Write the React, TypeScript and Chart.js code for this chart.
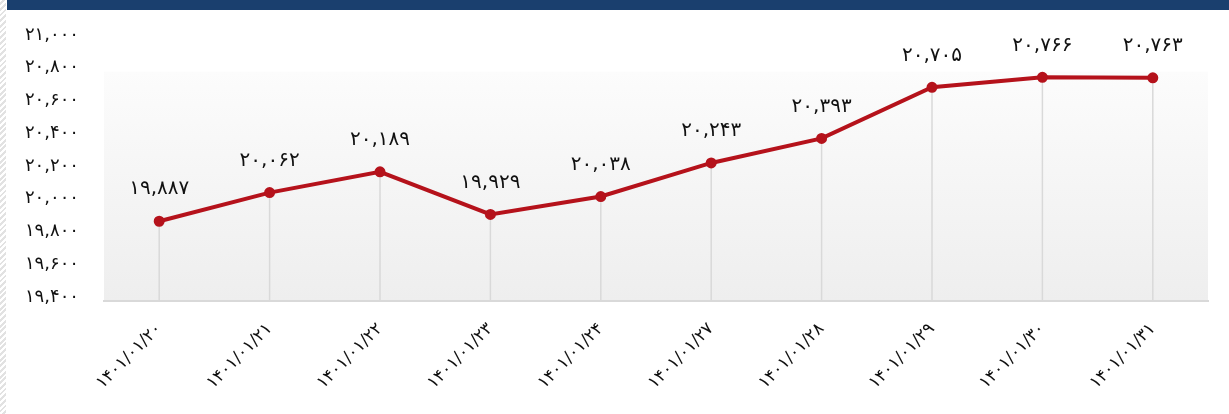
import React, { useEffect, useRef } from "react";
import { Chart, registerables } from "chart.js";

Chart.register(...registerables);

const categories = [
  "۱۴۰۱/۰۱/۲۰",
  "۱۴۰۱/۰۱/۲۱",
  "۱۴۰۱/۰۱/۲۲",
  "۱۴۰۱/۰۱/۲۳",
  "۱۴۰۱/۰۱/۲۴",
  "۱۴۰۱/۰۱/۲۷",
  "۱۴۰۱/۰۱/۲۸",
  "۱۴۰۱/۰۱/۲۹",
  "۱۴۰۱/۰۱/۳۰",
  "۱۴۰۱/۰۱/۳۱",
];
const values = [19887, 20062, 20189, 19929, 20038, 20243, 20393, 20705, 20766, 20763];
const yMin = 19400;
const yMax = 21000;
const yStep = 200;
const plotTopValue = 20800;

const faDigits = ["۰", "۱", "۲", "۳", "۴", "۵", "۶", "۷", "۸", "۹"];
const toFa = (n: number) =>
  n
    .toLocaleString("en-US")
    .replace(/[0-9]/g, (d) => faDigits[Number(d)]);

const FONT = "'DejaVu Sans', sans-serif";
const LINE = "#b5121b";

const bgPlugin = {
  id: "bgPlugin",
  beforeDraw(chart: any) {
    const { ctx, chartArea } = chart;
    const y = chart.scales.y;
    const top = y.getPixelForValue(plotTopValue);
    const g = ctx.createLinearGradient(0, top, 0, chartArea.bottom);
    g.addColorStop(0, "#fcfcfc");
    g.addColorStop(1, "#eeeeee");
    ctx.save();
    ctx.fillStyle = g;
    ctx.fillRect(chartArea.left, top, chartArea.right - chartArea.left, chartArea.bottom - top);
    ctx.restore();
  },
};

const dropPlugin = {
  id: "dropPlugin",
  beforeDatasetsDraw(chart: any) {
    const { ctx, chartArea } = chart;
    const meta = chart.getDatasetMeta(0);
    ctx.save();
    ctx.strokeStyle = "#d9d9d9";
    ctx.lineWidth = 1.5;
    meta.data.forEach((p: any) => {
      ctx.beginPath();
      ctx.moveTo(p.x, p.y);
      ctx.lineTo(p.x, chartArea.bottom);
      ctx.stroke();
    });
    ctx.restore();
  },
};

const labelPlugin = {
  id: "labelPlugin",
  afterDatasetsDraw(chart: any) {
    const { ctx } = chart;
    const meta = chart.getDatasetMeta(0);
    ctx.save();
    ctx.fillStyle = "#111111";
    ctx.font = `20px ${FONT}`;
    ctx.textAlign = "center";
    ctx.textBaseline = "middle";
    meta.data.forEach((p: any, i: number) => {
      ctx.fillText(toFa(values[i]), p.x, p.y - 32);
    });
    ctx.restore();
  },
};

export default function App() {
  const ref = useRef<HTMLCanvasElement>(null);
  useEffect(() => {
    if (!ref.current) return;
    const chart = new Chart(ref.current, {
      type: "line",
      data: {
        labels: categories,
        datasets: [
          {
            data: values,
            borderColor: LINE,
            backgroundColor: LINE,
            borderWidth: 4,
            pointRadius: 3.5,
            pointBackgroundColor: LINE,
            pointBorderColor: LINE,
            tension: 0,
          },
        ],
      },
      options: {
        animation: false,
        responsive: false,
        layout: { padding: { left: 0, right: 21, top: 39, bottom: 0 } },
        plugins: { legend: { display: false }, tooltip: { enabled: false } },
        scales: {
          x: {
            offset: true,
            grid: { display: false, drawTicks: false },
            border: { display: true, color: "#d9d9d9", width: 2 },
            ticks: {
              maxRotation: 45,
              minRotation: 45,
              padding: 18,
              color: "#111111",
              font: { family: FONT, size: 17 },
            },
            afterFit(scale: any) {
              scale.height = 113;
            },
          },
          y: {
            min: yMin,
            max: yMax,
            grid: { display: false, drawTicks: false },
            border: { display: false },
            ticks: {
              stepSize: yStep,
              padding: 25,
              labelOffset: -4,
              color: "#111111",
              font: { family: FONT, size: 18 },
              callback: (v: any) => toFa(Number(v)),
            },
            afterFit(scale: any) {
              scale.width = 104;
            },
          },
        },
      },
      plugins: [bgPlugin, dropPlugin, labelPlugin],
    });
    return () => chart.destroy();
  }, []);

  return (
    <div
      style={{
        position: "fixed",
        left: 0,
        top: 0,
        width: 1229,
        height: 414,
        background: "#ffffff",
        overflow: "hidden",
      }}
    >
      <canvas
        ref={ref}
        width={1229}
        height={414}
        style={{ position: "absolute", left: 0, top: 0, width: 1229, height: 414 }}
      />
      <div
        style={{
          position: "absolute",
          left: 7,
          top: 0,
          width: 1222,
          height: 10,
          background: "#1a3f6e",
        }}
      />
      <div
        style={{
          position: "absolute",
          left: 0,
          top: 0,
          width: 6,
          height: 414,
          background:
            "repeating-linear-gradient(135deg, #ffffff 0px, #ffffff 2px, #e2e2e2 2px, #e2e2e2 4px)",
        }}
      />
    </div>
  );
}
